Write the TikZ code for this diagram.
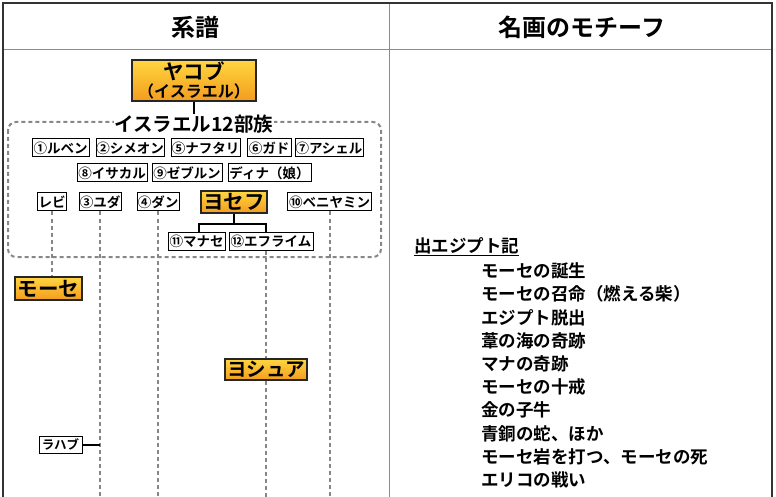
\documentclass[tikz,border=0pt]{standalone}
\usepackage{fontspec}
\setmainfont{Noto Sans CJK JP}[BoldFont=* Bold]
\usetikzlibrary{calc}
\definecolor{otop}{RGB}{255,214,64}
\definecolor{obot}{RGB}{244,156,30}
\definecolor{framegray}{RGB}{140,140,140}
\definecolor{dashgray}{RGB}{135,135,135}
\tikzset{
  gbox/.style={draw=black, line width=1pt, fill=white, inner sep=0pt,
    minimum height=18pt, font=\bfseries\fontsize{13.5}{13.5}\selectfont},
  obox/.style={draw=black!85, line width=1.1pt, top color=otop, bottom color=obot,
    inner sep=0pt, font=\bfseries\fontsize{20.5}{20.5}\selectfont},
  dline/.style={draw=dashgray, dash pattern=on 4pt off 3pt, line width=2pt},
  sline/.style={draw=black, line width=2pt},
  head/.style={font=\bfseries\fontsize{24}{24}\selectfont, inner sep=0pt},
  item/.style={anchor=west, inner sep=0pt, font=\bfseries\fontsize{17.5}{17.5}\selectfont},
}
\begin{document}
\begin{tikzpicture}[x=1pt,y=-1pt]
\useasboundingbox (0,0) rectangle (776,497);
% frame
\draw[framegray, line width=1pt] (3,50) -- (772,50);
\draw[framegray, line width=1pt] (389,3) -- (389,497);
\draw[black!80, line width=1.2pt] (3,497) -- (3,3) -- (772,3) -- (772,497);
\node[head] (h1) at (195,27) {系譜};
\node[head] (h2) at (582,27) {名画のモチーフ};

% dashed group
\draw[dashgray, dash pattern=on 4pt off 3pt, line width=2pt, rounded corners=8pt]
  (8,122) rectangle (381,257);

% Jacob
\node[obox, minimum width=124pt, minimum height=41pt, align=center] (jacob) at (194,80.5)
  {ヤコブ\\[-3pt]{\fontsize{16}{16}\selectfont （イスラエル）}};
\node[fill=white, inner sep=1pt, font=\bfseries\fontsize{19.5}{19.5}\selectfont] (tribes) at (194,124) {イスラエル12部族};
\draw[sline] (jacob.south) -- (tribes.north);

% row 1
\node[gbox, minimum width=57pt] (rub) at (60.5,148) {①ルベン};
\node[gbox, minimum width=68pt] (sim) at (130,148) {②シメオン};
\node[gbox, minimum width=69pt] (naf) at (205.5,148) {⑤ナフタリ};
\node[gbox, minimum width=44pt] (gad) at (269,148) {⑥ガド};
\node[gbox, minimum width=68pt] (ash) at (329,148) {⑦アシェル};
% row 2
\node[gbox, minimum width=70pt] (isa) at (112,173) {⑧イサカル};
\node[gbox, minimum width=70pt] (zeb) at (187,173) {⑨ゼブルン};
\node[gbox, minimum width=83pt] (din) at (269.5,173) {ディナ（娘）};
% row 3
\node[gbox, minimum width=29pt] (levi) at (52,202) {レビ};
\node[gbox, minimum width=42pt] (juda) at (100,202) {③ユダ};
\node[gbox, minimum width=42pt] (dan) at (158,202) {④ダン};
\node[obox, minimum width=66pt, minimum height=22pt] (yos) at (234,202) {ヨセフ};
\node[gbox, minimum width=84pt] (beni) at (329.5,202) {⑩ベニヤミン};
% row 4
\node[gbox, minimum width=57pt] (man) at (196.5,241) {⑪マナセ};
\node[gbox, minimum width=84pt] (eph) at (271,241) {⑫エフライム};

% lower boxes
\node[obox, minimum width=67pt, minimum height=23pt] (moses) at (48.5,288.5) {モーセ};
\node[obox, minimum width=82pt, minimum height=21pt, font=\bfseries\fontsize{19.5}{19.5}\selectfont] (josh) at (266,369.5) {ヨシュア};
\node[draw=black, line width=1pt, fill=white, inner sep=0pt, minimum width=43pt,
  minimum height=17pt, font=\bfseries\fontsize{12.5}{12.5}\selectfont] (rahab) at (60.5,444.5) {ラハブ};

% Joseph branch
\coordinate (jb) at ($(yos.south)+(0,10)$);
\draw[sline] (yos.south) -- (jb);
\draw[sline] ([xshift=2.5pt]man.north) |- (jb) -| ([xshift=-5pt]eph.north);

% descent lines
\coordinate (bl) at (0,497);
\draw[dline] (levi.south) -- (levi.south |- moses.north);
\draw[dline] (juda.south) -- (juda.south |- bl);
\draw[dline] (dan.south) -- (dan.south |- bl);
\draw[dline] ([xshift=-5pt]eph.south) -- ([xshift=-5pt]eph.south |- josh.north);
\draw[dline] (josh.south) -- (josh.south |- bl);
\draw[dline] (beni.south) -- (beni.south |- bl);
\draw[sline] (rahab.east) -- (rahab.east -| juda.south);

% right column
\node[anchor=west, inner sep=0pt, font=\bfseries\fontsize{17.5}{17.5}\selectfont] (exo) at (414,247) {\underline{出エジプト記}};
\node[item] (i1) at (481,271) {モーセの誕生};
\node[item] (i2) at (481,294.2) {モーセの召命（燃える柴）};
\node[item] (i3) at (481,317.4) {エジプト脱出};
\node[item] (i4) at (481,340.6) {葦の海の奇跡};
\node[item] (i5) at (481,363.8) {マナの奇跡};
\node[item] (i6) at (481,387) {モーセの十戒};
\node[item] (i7) at (481,410.2) {金の子牛};
\node[item] (i8) at (481,433.4) {青銅の蛇、ほか};
\node[item] (i9) at (481,456.6) {モーセ岩を打つ、モーセの死};
\node[item] (i10) at (481,479.8) {エリコの戦い};
\end{tikzpicture}
\end{document}
